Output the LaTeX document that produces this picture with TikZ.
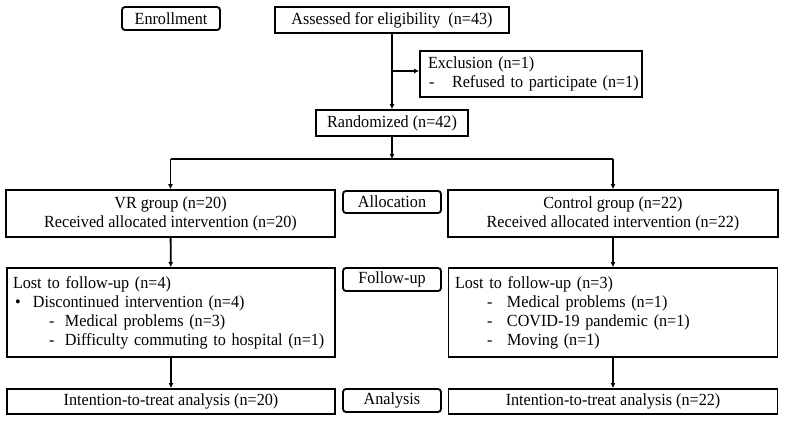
\documentclass[tikz,border=0pt]{standalone}
\usepackage{fontspec}
\setmainfont{Liberation Serif}[FakeStretch=0.95]
\usetikzlibrary{arrows.meta}
\tikzset{
  base/.style={draw, line width=1.8pt, inner sep=0pt, font=\fontsize{17}{19}\selectfont},
  box/.style={base, align=center},
  lbox/.style={base, align=left, inner xsep=#1},
  stage/.style={base, rounded corners=3pt, minimum width=98pt, minimum height=23pt},
  conn/.style={line width=1.8pt},
  arr/.style={conn, -{Latex[length=5pt,width=5pt]}}
}
\begin{document}
\begin{tikzpicture}[x=1pt,y=-1pt]
\useasboundingbox (0,0) rectangle (787,421);

\node[stage] (enroll) at (171,18.5) {Enrollment};
\node[box, minimum width=234pt, minimum height=26pt] (assess) at (392,20) {Assessed for eligibility \ (n=43)};
\node[lbox=8pt, text width=206pt, minimum width=222pt, minimum height=46pt] (excl) at (531,74)
  {\mbox{Exclusion (n=1)}\\\mbox{\hspace*{1pt}\makebox[23pt][l]{-}Refused to participate (n=1)}};
\node[box, minimum width=152pt, minimum height=26pt] (rand) at (392,123) {Randomized (n=42)};

\node[box, minimum width=329pt, minimum height=47pt] (vr) at (170.5,213.5) {VR group (n=20)\\Received allocated intervention (n=20)};
\node[stage, minimum height=22pt] (alloc) at (392,202) {Allocation};
\node[box, minimum width=330pt, minimum height=47pt] (ctrl) at (613,213.5) {Control group (n=22)\\Received allocated intervention (n=22)};

\node[lbox=6pt, text width=316pt, minimum width=328pt, minimum height=89pt] (lostL) at (171,312.5)
  {\mbox{Lost to follow-up (n=4)}\\
   \mbox{\hspace*{2pt}\makebox[18pt][l]{•}Discontinued intervention (n=4)}\\
   \mbox{\hspace*{36pt}\makebox[16pt][l]{-}Medical problems (n=3)}\\
   \mbox{\hspace*{36pt}\makebox[16pt][l]{-}Difficulty commuting to hospital (n=1)}};
\node[stage] (follow) at (392,279.5) {Follow-up};
\node[lbox=6.5pt, text width=316pt, minimum width=329pt, minimum height=89pt] (lostR) at (613,312.5)
  {\mbox{Lost to follow-up (n=3)}\\
   \mbox{\hspace*{32pt}\makebox[20pt][l]{-}Medical problems (n=1)}\\
   \mbox{\hspace*{32pt}\makebox[20pt][l]{-}COVID-19 pandemic (n=1)}\\
   \mbox{\hspace*{32pt}\makebox[20pt][l]{-}Moving (n=1)}};

\node[box, minimum width=328pt, minimum height=25pt] (ittL) at (171,401.5) {Intention-to-treat analysis (n=20)};
\node[stage] (analysis) at (392,400.5) {Analysis};
\node[box, minimum width=329pt, minimum height=25pt] (ittR) at (613,401.5) {Intention-to-treat analysis (n=22)};

\coordinate (branch) at (392,71);
\coordinate (split) at (392,159);

\draw[arr] (assess) -- (rand);
\draw[arr] (branch) -- (branch -| excl.west);
\draw[arr] (rand) -- (split);
\draw[conn] (split -| vr) -- (split -| ctrl);
\draw[arr] (split -| vr) -- (vr);
\draw[arr] (split -| ctrl) -- (ctrl);
\draw[arr] (vr) -- (lostL);
\draw[arr] (ctrl) -- (lostR);
\draw[arr] (lostL) -- (ittL);
\draw[arr] (lostR) -- (ittR);
\end{tikzpicture}
\end{document}
